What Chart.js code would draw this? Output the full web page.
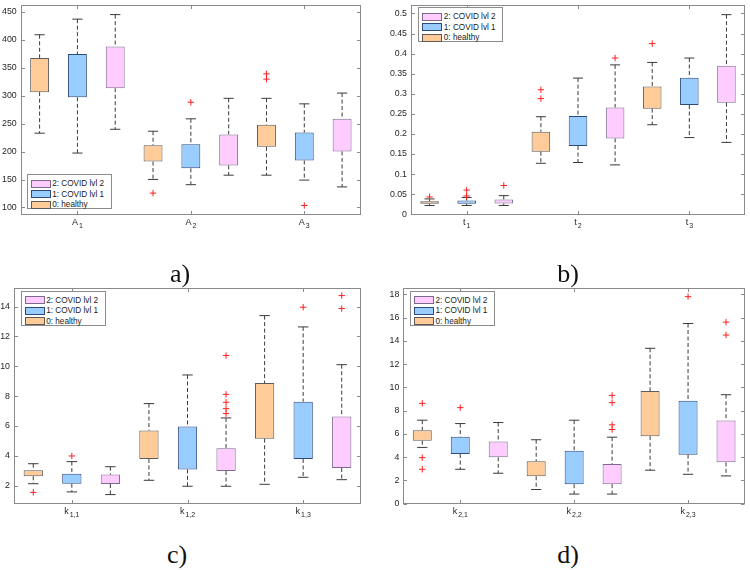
<!DOCTYPE html>
<html>
<head>
<meta charset="utf-8">
<script src="https://cdn.jsdelivr.net/npm/chart.js@4.4.1/dist/chart.umd.min.js"></script>
<style>
  body { margin: 0; background: #fff; }
  #page { position: relative; width: 750px; height: 570px; overflow: hidden; background: #fff; }
  canvas { position: absolute; }
  .legend { position: absolute; background: #fff; border: 1px solid #8c8c8c; padding: 3px 0 0 3px;
            box-sizing: border-box; width: 85px; height: 35px;
            font: 8.2px 'Liberation Sans', Arial, sans-serif; color: #1a1a1a; }
  .legend .row { height: 10.5px; display: flex; align-items: center; white-space: nowrap; }
  .legend .sw { display: inline-block; width: 20px; height: 8px; box-sizing: border-box;
                border: 1px solid; margin-right: 1.5px; }
  .panel-label { position: absolute; width: 60px; text-align: center; line-height: 1;
                 font: 26px 'Liberation Serif', serif; color: #111; }
</style>
</head>
<body>
<div id="page">
  <canvas id="chartA" width="375" height="240" style="left:0;top:0"></canvas>
  <canvas id="chartB" width="375" height="240" style="left:375px;top:0"></canvas>
  <canvas id="chartC" width="375" height="260" style="left:0;top:270px"></canvas>
  <canvas id="chartD" width="375" height="260" style="left:375px;top:270px"></canvas>
</div>
<script>
// groups, in plotting order (legend lists them reversed)
const groupNames = ['0: healthy', '1: COVID lvl 1', '2: COVID lvl 2'];
const groupFill = ['#ffcc99', '#99ccff', '#ffccff'];
const groupEdge = ['#5e5a57', '#2e4a7d', '#7b6a8c'];

// each panel: 9 boxes = 3 variables x (healthy, lvl 1, lvl 2)
// a) A1, A2, A3
const aLabelBase = ['A', 'A', 'A'];
const aLabelSub = ['1', '2', '3'];
const aYTicks = [100, 150, 200, 250, 300, 350, 400, 450];
const aLower = [233, 197.4, 240, 150.2, 140.8, 157.8, 157.8, 149, 136.8];
const aQ1 = [306.5, 297.2, 313.5, 182.2, 170, 175.3, 208.5, 184, 200.3];
const aQ3 = [367.7, 374.8, 388.2, 211.4, 213.2, 230.7, 248.2, 234.2, 258.7];
const aUpper = [409.2, 437.2, 445.3, 236.5, 258.7, 295.4, 295.4, 285.5, 304.8];
const aOutliers = [[], [], [], [125.7], [288.4], [], [339.2, 329.8], [103.5], []];

// b) t1, t2, t3
const bLabelBase = ['t', 't', 't'];
const bLabelSub = ['1', '2', '3'];
const bYTicks = [0, 0.05, 0.1, 0.15, 0.2, 0.25, 0.3, 0.35, 0.4, 0.45, 0.5];
const bLower = [0.022, 0.022, 0.022, 0.127, 0.129, 0.123, 0.223, 0.191, 0.179];
const bQ1 = [0.026, 0.026, 0.027, 0.156, 0.170, 0.189, 0.263, 0.272, 0.278];
const bQ3 = [0.0326, 0.0343, 0.0367, 0.2055, 0.245, 0.266, 0.318, 0.340, 0.3695];
const bUpper = [0.0383, 0.042, 0.0465, 0.243, 0.339, 0.372, 0.378, 0.389, 0.497];
const bOutliers = [[0.0432], [0.0604, 0.0457], [0.0718], [0.31, 0.288], [], [0.389], [0.425], [], []];

// c) k1,1  k1,2  k1,3
const cLabelBase = ['k', 'k', 'k'];
const cLabelSub = ['1,1', '1,2', '1,3'];
const cYTicks = [2, 4, 6, 8, 10, 12, 14];
const cLower = [2.13, 1.58, 1.40, 2.36, 1.96, 1.96, 2.09, 2.56, 2.40];
const cQ1 = [2.63, 2.13, 2.11, 3.79, 3.09, 2.98, 5.15, 3.79, 3.18];
const cQ3 = [3.03, 2.80, 2.74, 5.69, 5.96, 4.50, 8.88, 7.63, 6.63];
const cUpper = [3.47, 3.61, 3.27, 7.50, 9.42, 6.54, 13.40, 12.64, 10.11];
const cOutliers = [[1.55], [3.99], [], [], [], [10.72, 8.12, 7.59, 7.16, 6.83], [], [13.96], [14.74, 13.87]];

// d) k2,1  k2,2  k2,3
const dLabelBase = ['k', 'k', 'k'];
const dLabelSub = ['2,1', '2,2', '2,3'];
const dYTicks = [0, 2, 4, 6, 8, 10, 12, 14, 16, 18];
const dLower = [4.84, 2.96, 2.62, 1.22, 0.83, 0.83, 2.88, 2.53, 2.39];
const dQ1 = [5.41, 4.27, 3.99, 2.36, 1.68, 1.68, 5.81, 4.22, 3.56];
const dQ3 = [6.32, 5.75, 5.35, 3.65, 4.56, 3.42, 9.68, 8.86, 7.15];
const dUpper = [7.18, 6.89, 6.98, 5.50, 7.18, 5.72, 13.36, 15.49, 9.37];
const dOutliers = [[8.63, 3.96, 2.96], [8.26], [], [], [], [9.31, 8.69, 6.78, 6.38], [], [17.80], [15.61, 14.50]];

const FONT = "'Liberation Sans', Arial, sans-serif";
const TEXT = '#262626';
const FRAME = '#8a8a8a';
const CAP = 0.135;      // half width of whisker caps, in box units
const TICK_AT = [2, 5, 8];

// axes frame with inward ticks on all four sides (MATLAB "box on")
const frameTicks = {
  id: 'frameTicks',
  afterDraw(chart) {
    const { ctx, chartArea: a, scales } = chart;
    const L = Math.round(a.left) + 0.5, R = Math.round(a.right) - 0.5;
    const T = Math.round(a.top) + 0.5, B = Math.round(a.bottom) - 0.5;
    ctx.save();
    ctx.strokeStyle = FRAME;
    ctx.lineWidth = 1;
    ctx.strokeRect(L, T, R - L, B - T);
    ctx.beginPath();
    scales.y.ticks.forEach(t => {
      const y = Math.round(scales.y.getPixelForValue(t.value)) + 0.5;
      ctx.moveTo(L, y); ctx.lineTo(L + 3.5, y);
      ctx.moveTo(R, y); ctx.lineTo(R - 3.5, y);
    });
    scales.x.ticks.forEach(t => {
      const x = Math.round(scales.x.getPixelForValue(t.value)) + 0.5;
      ctx.moveTo(x, B); ctx.lineTo(x, B - 3.5);
      ctx.moveTo(x, T); ctx.lineTo(x, T + 3.5);
    });
    ctx.stroke();
    ctx.restore();
  }
};

// x labels with a subscript part (A_1, k_{1,1} ...)
const subLabels = {
  id: 'subLabels',
  afterDraw(chart, args, opts) {
    const { ctx, chartArea } = chart;
    const xs = chart.scales.x;
    const mainFont = `9px ${FONT}`, subFont = `7px ${FONT}`;
    ctx.save();
    ctx.fillStyle = TEXT;
    ctx.textBaseline = 'alphabetic';
    opts.base.forEach((b, i) => {
      const x = xs.getPixelForValue(TICK_AT[i]);
      ctx.font = mainFont;
      const w1 = ctx.measureText(b).width;
      ctx.font = subFont;
      const w2 = ctx.measureText(opts.sub[i]).width;
      const x0 = x - (w1 + 1 + w2) / 2;
      const y = chartArea.bottom + 10;
      ctx.font = mainFont;
      ctx.fillText(b, x0, y);
      ctx.font = subFont;
      ctx.fillText(opts.sub[i], x0 + w1 + 1, y + 2.5);
    });
    ctx.restore();
  }
};

function makeDatasets(lower, q1, q3, upper, outliers) {
  const boxes = groupNames.map((name, g) => ({
    type: 'bar',
    label: name,
    data: q1.map((v, i) => ({ x: i + 1, y: [v, q3[i]] })).filter((_, i) => i % 3 === g),
    backgroundColor: groupFill[g],
    borderColor: groupEdge[g],
    borderWidth: 1,
    borderSkipped: false,
    grouped: false,
    barPercentage: 0.5,
    categoryPercentage: 1,
    order: 1
  }));

  const whiskers = [];
  const caps = [];
  lower.forEach((lo, i) => {
    const x = i + 1;
    whiskers.push({ x, y: upper[i] }, { x, y: q3[i] }, { x, y: null },
                  { x, y: q1[i] }, { x, y: lo }, { x, y: null });
    caps.push({ x: x - CAP, y: upper[i] }, { x: x + CAP, y: upper[i] }, { x, y: null },
              { x: x - CAP, y: lo }, { x: x + CAP, y: lo }, { x, y: null });
  });

  const outlierPts = [];
  outliers.forEach((list, i) => list.forEach(v => outlierPts.push({ x: i + 1, y: v })));

  return boxes.concat([
    {
      type: 'line', label: 'whiskers', data: whiskers,
      borderColor: '#3a3a3a', borderWidth: 1, borderDash: [4, 2.5],
      pointRadius: 0, fill: false, tension: 0, order: 2
    },
    {
      type: 'line', label: 'caps', data: caps,
      borderColor: '#3a3a3a', borderWidth: 1,
      pointRadius: 0, fill: false, tension: 0, order: 2
    },
    {
      type: 'scatter', label: 'outliers', data: outlierPts,
      pointStyle: 'cross', pointRadius: 3.2, borderColor: '#ff1f1f',
      borderWidth: 1, showLine: false, order: 0
    }
  ]);
}

function drawPanel(id, canvasBox, area, yMin, yMax, yTicks, base, sub, data) {
  const yWidth = area.l - canvasBox.left;
  const xHeight = canvasBox.top + canvasBox.h - area.b;
  new Chart(document.getElementById(id), {
    type: 'bar',
    data: { datasets: makeDatasets(...data) },
    options: {
      responsive: false,
      animation: false,
      devicePixelRatio: 1,
      layout: {
        padding: { left: 0, bottom: 0, top: area.t - canvasBox.top, right: canvasBox.left + canvasBox.w - area.r }
      },
      plugins: {
        legend: { display: false },
        tooltip: { enabled: false },
        subLabels: { base, sub }
      },
      scales: {
        x: {
          type: 'linear', min: 0.5, max: 9.5, offset: false,
          grid: { display: false, drawTicks: false, offset: false },
          border: { display: false },
          ticks: { display: false },
          afterBuildTicks: s => { s.ticks = TICK_AT.map(v => ({ value: v })); },
          afterFit: s => { s.height = xHeight; s.paddingLeft = 0; s.paddingRight = 0; }
        },
        y: {
          type: 'linear', min: yMin, max: yMax, beginAtZero: false,
          grid: { display: false, drawTicks: false },
          border: { display: false },
          ticks: {
            padding: 4, color: TEXT, font: { family: FONT, size: 8.8 },
            callback: v => String(+Number(v).toFixed(4))
          },
          afterBuildTicks: s => { s.ticks = yTicks.map(v => ({ value: v })); },
          afterFit: s => { s.width = yWidth; s.paddingTop = 0; s.paddingBottom = 0; }
        }
      }
    },
    plugins: [frameTicks, subLabels]
  });
}

function addLegend(left, top) {
  const box = document.createElement('div');
  box.className = 'legend';
  box.style.left = left + 'px';
  box.style.top = top + 'px';
  [2, 1, 0].forEach(g => {
    const row = document.createElement('div');
    row.className = 'row';
    const sw = document.createElement('span');
    sw.className = 'sw';
    sw.style.background = groupFill[g];
    sw.style.borderColor = groupEdge[g];
    row.appendChild(sw);
    row.appendChild(document.createTextNode(groupNames[g]));
    box.appendChild(row);
  });
  document.getElementById('page').appendChild(box);
}

function addPanelLabel(text, cx, top) {
  const el = document.createElement('div');
  el.className = 'panel-label';
  el.textContent = text;
  el.style.left = (cx - 30) + 'px';
  el.style.top = top + 'px';
  document.getElementById('page').appendChild(el);
}

drawPanel('chartA', { left: 0, top: 0, w: 375, h: 240 }, { l: 20.7, r: 361, t: 0.5, b: 215 },
  86.5, 462.5, aYTicks, aLabelBase, aLabelSub, [aLower, aQ1, aQ3, aUpper, aOutliers]);
drawPanel('chartB', { left: 375, top: 0, w: 375, h: 240 }, { l: 411, r: 746, t: 0.5, b: 215 },
  -0.0017, 0.521, bYTicks, bLabelBase, bLabelSub, [bLower, bQ1, bQ3, bUpper, bOutliers]);
drawPanel('chartC', { left: 0, top: 270, w: 375, h: 260 }, { l: 14, r: 361, t: 287.7, b: 504.3 },
  0.75, 15.27, cYTicks, cLabelBase, cLabelSub, [cLower, cQ1, cQ3, cUpper, cOutliers]);
drawPanel('chartD', { left: 375, top: 270, w: 375, h: 260 }, { l: 403.3, r: 745, t: 287.7, b: 504.3 },
  -0.05, 18.57, dYTicks, dLabelBase, dLabelSub, [dLower, dQ1, dQ3, dUpper, dOutliers]);

addLegend(26.7, 174.3);
addLegend(418.3, 7.3);
addLegend(20.7, 291);
addLegend(410, 291);

addPanelLabel('a)', 180, 259);
addPanelLabel('b)', 568, 259);
addPanelLabel('c)', 177, 540);
addPanelLabel('d)', 568, 540);
</script>
</body>
</html>
